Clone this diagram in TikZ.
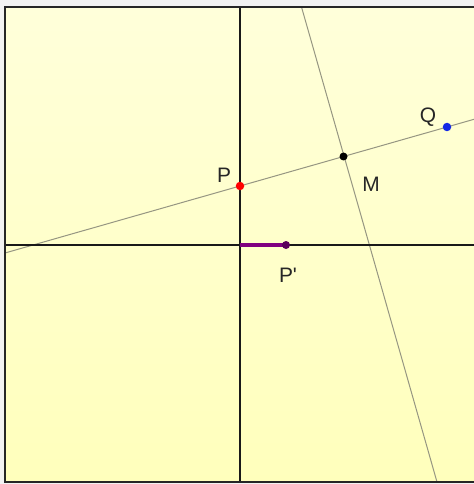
\documentclass[tikz,border=0pt]{standalone}
\usepackage{fontspec}
\setmainfont{Liberation Sans}
\definecolor{bgtop}{RGB}{255,255,218}
\definecolor{bgbot}{RGB}{255,255,188}
\definecolor{segpurple}{RGB}{128,0,128}
\definecolor{dotpurple}{RGB}{90,0,90}
\definecolor{dotblue}{RGB}{20,40,230}
\definecolor{thingray}{RGB}{150,150,130}
\begin{document}
\begin{tikzpicture}[x=1bp,y=-1bp,
  axis/.style={line width=2.3bp,black!90},
  thin line/.style={line width=1bp,thingray},
  pt/.style={circle,inner sep=0pt,minimum size=8.5bp},
  lbl/.style={font=\fontsize{21}{21}\selectfont,text=black!85}]
\useasboundingbox (0,0) rectangle (474,484);
\fill[white!95!black] (0,0) rectangle (474,484);
\shade[top color=bgtop,bottom color=bgbot] (5,7) rectangle (474,482);
% coordinates
\coordinate (P) at (240,186);
\coordinate (Q) at (447,127);
\coordinate (M) at (343.5,156.5);
\coordinate (Pp) at (286,245);
\coordinate (O) at (240,245);
\coordinate (Lf) at (5,253);
\coordinate (Rt) at (474,119.3);
\coordinate (Tp) at (301.5,7);
\coordinate (Bt) at (437,482);
\coordinate (Vt) at (240,7);
\coordinate (Vb) at (240,482);
\coordinate (Hl) at (5,245);
\coordinate (Hr) at (474,245);
% thin lines
\draw[thin line] (Lf) -- (Rt);
\draw[thin line] (Tp) -- (Bt);
% axes
\draw[axis] (Vt) -- (Vb);
\draw[axis] (Hl) -- (Hr);
% frame
\draw[line width=2.4bp,black!85] (474,7) -- (5,7) -- (5,482) -- (474,482);
% segment OP'
\draw[line width=3.2bp,segpurple] (O) -- (Pp);
% points
\node[pt,fill=red] (nP) at (P) {};
\node[pt,fill=dotblue] (nQ) at (Q) {};
\node[pt,fill=black,minimum size=8bp] (nM) at (M) {};
\node[pt,fill=dotpurple,minimum size=8bp] (nPp) at (Pp) {};
% labels
\node[lbl] (tP) at (224,175) {P};
\node[lbl] (tQ) at (428,117) {Q};
\node[lbl] (tM) at (371,184) {M};
\node[lbl] (tPp) at (288,275) {P\textquotesingle};
\end{tikzpicture}
\end{document}
